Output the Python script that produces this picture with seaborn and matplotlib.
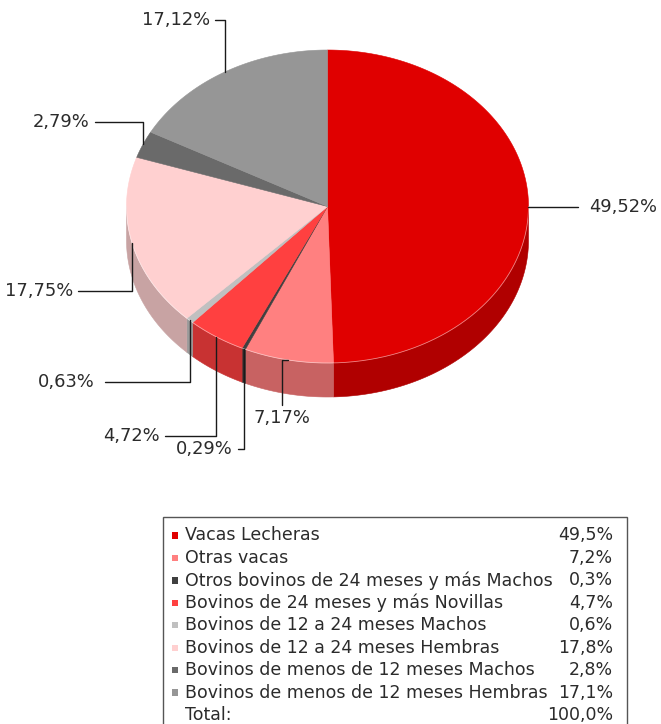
import numpy as np
import matplotlib
matplotlib.use("Agg")
import matplotlib.pyplot as plt
import seaborn as sns
from matplotlib.patches import Polygon, Rectangle

# Composición del censo bovino (% sobre el total)
categories = [
    "Vacas Lecheras",
    "Otras vacas",
    "Otros bovinos de 24 meses y más Machos",
    "Bovinos de 24 meses y más Novillas",
    "Bovinos de 12 a 24 meses Machos",
    "Bovinos de 12 a 24 meses Hembras",
    "Bovinos de menos de 12 meses Machos",
    "Bovinos de menos de 12 meses Hembras",
]
shares = [49.52, 7.17, 0.29, 4.72, 0.63, 17.75, 2.79, 17.12]

top_colors = ["#E00000", "#FF8080", "#404040", "#FF4040",
              "#C0C0C0", "#FFD0D0", "#6A6A6A", "#969696"]
side_colors = ["#B00000", "#C86262", "#2C2C2C", "#C83232",
               "#9A9A9A", "#C8A3A3", "#555555", "#787878"]

sns.set_theme(style="white")
plt.rcParams["font.family"] = ["DejaVu Sans"]
TXT = "#2b2b2b"
FS_LEG = 12.5
FS_LAB = 12.9

W, H = 661, 724
fig = plt.figure(figsize=(W / 100, H / 100), dpi=100)
ax = fig.add_axes([0, 0, 1, 1])
ax.set_xlim(0, W)
ax.set_ylim(H, 0)
ax.axis("off")

# elliptical pie geometry (screen units, y downward)
cx, cy, rx, ry, depth = 327.5, 206.5, 201.0, 156.5, 34.0

def ex(t):
    return cx + rx * np.sin(t)

def ey(t):
    return cy - ry * np.cos(t)

fr = np.array(shares) / np.sum(shares)
edges = np.concatenate([[0], np.cumsum(fr)]) * 2 * np.pi

# side walls (front half only)
for i in range(len(shares)):
    a0 = max(edges[i], np.pi / 2)
    a1 = min(edges[i + 1], 3 * np.pi / 2)
    if a1 <= a0:
        continue
    t = np.linspace(a0, a1, 200)
    pts = np.column_stack([ex(t), ey(t)])
    bot = np.column_stack([ex(t[::-1]), ey(t[::-1]) + depth])
    ax.add_patch(Polygon(np.vstack([pts, bot]), closed=True,
                         facecolor=side_colors[i], edgecolor=side_colors[i],
                         lw=0.4, zorder=1))

# top face
for i in range(len(shares)):
    t = np.linspace(edges[i], edges[i + 1], 300)
    pts = np.vstack([[cx, cy], np.column_stack([ex(t), ey(t)])])
    ax.add_patch(Polygon(pts, closed=True, facecolor=top_colors[i],
                         edgecolor=top_colors[i], lw=0.4, zorder=2))

# thin highlight where top face meets wall
t = np.linspace(np.pi / 2, 3 * np.pi / 2, 400)
ax.plot(ex(t), ey(t), color="white", lw=0.6, alpha=0.5, zorder=3)

# data labels with leader lines: (text x, text y, ha, route)
label_layout = [
    (589, None, "left", "h"),
    (282, 418, "center", "tick_down"),
    (233, 449, "right", "down_left"),
    (160, 436, "right", "down_left"),
    (95, 382, "right", "down_left"),
    (73, 291, "right", "down_left"),
    (89, 122, "right", "left_up"),
    (210, 20, "right", "left_up"),
]
elbow = [578, 282, 238, 165, 105, 78, 95, 215]

for i, v in enumerate(shares):
    mid = (edges[i] + edges[i + 1]) / 2
    axp, ayp = ex(mid), ey(mid)
    tx, ty, ha, route = label_layout[i]
    if route == "h":
        ty = ayp + 3
        xs, ys = [axp, elbow[i]], [ty, ty]
    elif route == "tick_down":
        xs, ys = [axp, elbow[i], elbow[i]], [ayp, ayp, ty - 13]
    elif route == "down_left":
        xs, ys = [axp, axp, elbow[i]], [ayp, ty, ty]
    else:  # left_up: horizontal from text then down to the edge
        xs, ys = [elbow[i], axp, axp], [ty, ty, ayp]
    ax.plot(xs, ys, color="#1a1a1a", lw=1.0, zorder=4)
    ax.text(tx, ty, f"{v:.2f}%".replace(".", ","), ha=ha, va="center",
            fontsize=FS_LAB, color=TXT, zorder=5)

# legend table
ax.add_patch(Rectangle((163, 517), 464, 230, facecolor="white",
                       edgecolor="#555555", lw=1.0, zorder=1))
row0, dy = 535.5, 22.44
for i, name in enumerate(categories):
    y = row0 + i * dy
    ax.add_patch(Rectangle((171.5, y - 3.2), 6.4, 6.4, facecolor=top_colors[i],
                           edgecolor="none", zorder=2))
    ax.text(185, y, name, ha="left", va="center", fontsize=FS_LEG, color=TXT)
    ax.text(613, y, f"{shares[i]:.1f}%".replace(".", ","), ha="right",
            va="center", fontsize=FS_LEG, color=TXT)
y = row0 + len(categories) * dy
ax.text(185, y, "Total:", ha="left", va="center", fontsize=FS_LEG, color=TXT)
ax.text(613, y, f"{np.sum(shares):.1f}%".replace(".", ","), ha="right",
        va="center", fontsize=FS_LEG, color=TXT)

fig.savefig("out.png", dpi=100)
